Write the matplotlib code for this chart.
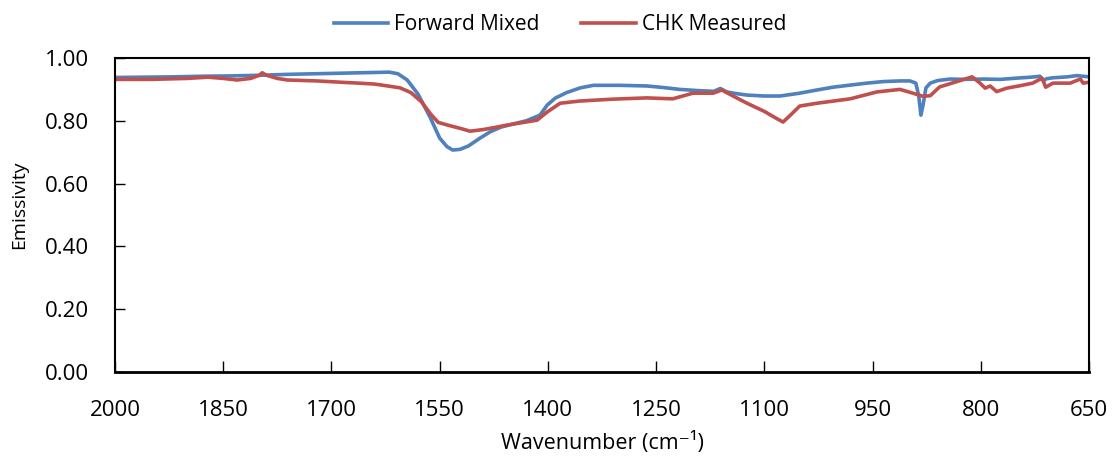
import matplotlib.pyplot as plt

# Forward Mixed spectrum (wavenumber, emissivity)
fwd_wn = [2000, 1960, 1920, 1880, 1840, 1800, 1760, 1720, 1680, 1640, 1620,
          1608, 1595, 1580, 1563, 1550, 1540, 1532, 1522, 1510, 1494, 1480,
          1465, 1448, 1430, 1411, 1401, 1390, 1374, 1355, 1337, 1300, 1263,
          1240, 1217, 1190, 1170, 1161, 1152, 1140, 1124, 1100, 1078, 1051,
          1030, 1005, 980, 958, 935, 912, 898, 890, 886, 883, 880, 876, 870,
          860, 843, 820, 797, 773, 750, 730, 718, 713, 709, 700, 680, 667, 650]
fwd_em = [0.938, 0.939, 0.940, 0.942, 0.943, 0.945, 0.948, 0.950, 0.952, 0.954, 0.955,
          0.950, 0.930, 0.885, 0.810, 0.745, 0.718, 0.707, 0.709, 0.720, 0.745, 0.765,
          0.780, 0.790, 0.800, 0.818, 0.850, 0.872, 0.890, 0.905, 0.913, 0.913, 0.911,
          0.906, 0.900, 0.896, 0.894, 0.903, 0.892, 0.887, 0.882, 0.879, 0.879, 0.888,
          0.897, 0.907, 0.914, 0.920, 0.925, 0.927, 0.927, 0.920, 0.880, 0.818, 0.850,
          0.905, 0.920, 0.928, 0.933, 0.932, 0.933, 0.932, 0.936, 0.939, 0.942, 0.927,
          0.934, 0.937, 0.940, 0.944, 0.940]

# CHK Measured spectrum
chk_wn = [2000, 1950, 1900, 1871, 1850, 1831, 1812, 1800, 1796, 1790, 1775,
          1761, 1720, 1680, 1662, 1640, 1622, 1605, 1590, 1575, 1562, 1552,
          1540, 1520, 1508, 1490, 1471, 1455, 1439, 1415, 1401, 1383, 1356,
          1310, 1263, 1227, 1199, 1171, 1159, 1140, 1124, 1100, 1085, 1074,
          1063, 1051, 1027, 981, 944, 912, 894, 880, 870, 857, 833, 812, 801,
          794, 787, 778, 764, 745, 728, 715, 710, 700, 676, 662, 658, 650]
chk_em = [0.932, 0.932, 0.935, 0.939, 0.935, 0.930, 0.935, 0.945, 0.953, 0.945, 0.935,
          0.930, 0.927, 0.922, 0.920, 0.917, 0.911, 0.905, 0.890, 0.860, 0.820, 0.795,
          0.787, 0.775, 0.767, 0.772, 0.780, 0.787, 0.793, 0.802, 0.828, 0.856, 0.863,
          0.869, 0.873, 0.870, 0.888, 0.888, 0.898, 0.875, 0.856, 0.830, 0.810, 0.796,
          0.820, 0.847, 0.856, 0.870, 0.892, 0.900, 0.888, 0.878, 0.880, 0.908, 0.925,
          0.940, 0.920, 0.904, 0.911, 0.893, 0.904, 0.912, 0.920, 0.936, 0.907, 0.920,
          0.920, 0.933, 0.920, 0.923]

plt.rcParams['font.family'] = ['Open Sans', 'DejaVu Sans']

fig = plt.figure(figsize=(11.2, 4.66), dpi=100)
ax = fig.add_axes([0.1027, 0.2017, 0.8696, 0.6738])

blue = '#4F81BD'
red = '#C0504D'
ax.plot(fwd_wn, fwd_em, color=blue, lw=2.6, label='Forward Mixed', solid_joinstyle='round')
ax.plot(chk_wn, chk_em, color=red, lw=2.6, label='CHK Measured', solid_joinstyle='round')

ax.set_xlim(2000, 650)
ax.set_ylim(0, 1.0)
ax.set_xticks([2000, 1850, 1700, 1550, 1400, 1250, 1100, 950, 800, 650])
ax.set_yticks([0, 0.2, 0.4, 0.6, 0.8, 1.0])
ax.set_yticklabels(['0.00', '0.20', '0.40', '0.60', '0.80', '1.00'])

for s in ax.spines.values():
    s.set_linewidth(1.5)
    s.set_color('black')
ax.spines['bottom'].set_linewidth(2.0)

ax.tick_params(axis='x', direction='in', length=8, width=1, labelsize=16, pad=20)
ax.tick_params(axis='y', direction='in', length=7, width=1, labelsize=16, pad=19)

ax.set_xlabel('Wavenumber (cm⁻¹)', fontsize=15.5, labelpad=8)
ax.set_ylabel('Emissivity', fontsize=14)
ax.yaxis.set_label_coords(-0.0893, 0.532)

fig.legend(loc='upper center', bbox_to_anchor=(0.5, 1.01), ncol=2, frameon=False,
           fontsize=15, handlelength=2.6, columnspacing=2.0, handletextpad=0.3)

fig.savefig('out.png', dpi=100)
